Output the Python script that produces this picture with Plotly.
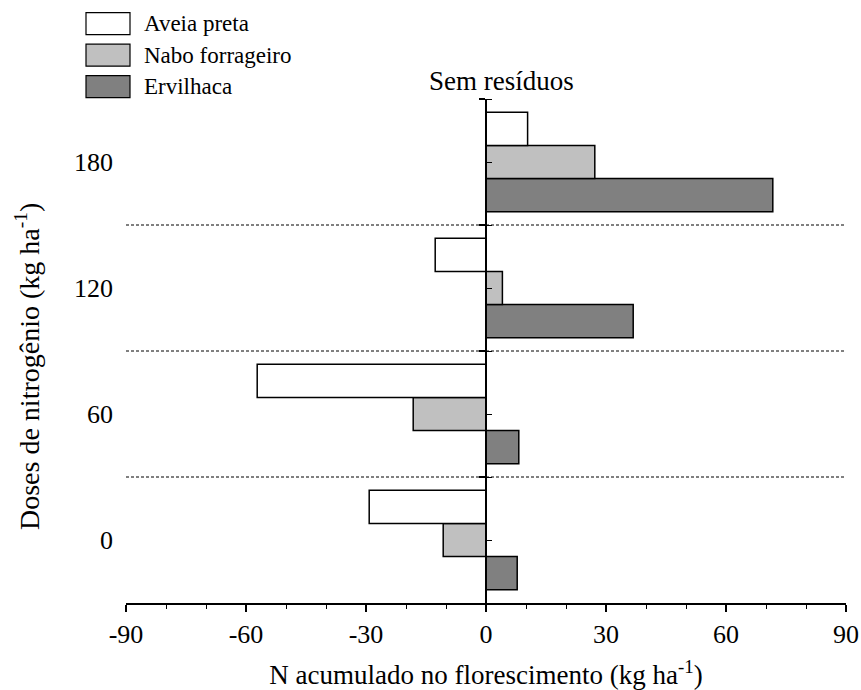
import plotly.graph_objects as go

# Data
doses = ["0", "60", "120", "180"]
aveia_preta = [-29.2, -57.2, -12.7, 10.4]
nabo_forrageiro = [-10.7, -18.2, 4.1, 27.2]
ervilhaca = [7.8, 8.2, 36.8, 71.7]

x_ticks = [-90, -60, -30, 0, 30, 60, 90]
x_ticktext = ["-90", "-60", "-30", "0", "30", "60", "90"]

series = [
    ("Ervilhaca", ervilhaca, "#808080"),
    ("Nabo forrageiro", nabo_forrageiro, "#c0c0c0"),
    ("Aveia preta", aveia_preta, "#ffffff"),
]

FONT = "Liberation Serif"
W, H = 861, 690
L, T = 126, 99
PW, PH = 720, 504
R, B = W - L - PW, H - T - PH


def px2paper(xp, yp):
    # pixel position -> paper coordinates of the plot area
    return (xp - L) / PW, (T + PH - yp) / PH


fig = go.Figure()
for name, vals, col in series:
    fig.add_trace(go.Bar(
        y=doses, x=vals, name=name, orientation="h",
        marker=dict(color=col, line=dict(color="black", width=1.5)),
        showlegend=False,
    ))

# dashed separators between dose groups
for yv in [0.5, 1.5, 2.5]:
    fig.add_shape(type="line", xref="x", yref="y", x0=-90, x1=90, y0=yv, y1=yv,
                  line=dict(color="black", width=1, dash="3px,2px"))

# hand-made legend (large boxes like the original)
legend_items = [("Aveia preta", "#ffffff"), ("Nabo forrageiro", "#c0c0c0"), ("Ervilhaca", "#808080")]
for i, (name, col) in enumerate(legend_items):
    top = 12.7 + i * 31.5
    x0, y1 = px2paper(86, top)
    x1, y0 = px2paper(130, top + 22)
    fig.add_shape(type="rect", xref="paper", yref="paper", x0=x0, x1=x1, y0=y0, y1=y1,
                  line=dict(color="black", width=1.2), fillcolor=col)
    tx, ty = px2paper(142, top + 11)
    fig.add_annotation(xref="paper", yref="paper", x=tx, y=ty,
                       text=name, showarrow=False, xanchor="left", yanchor="middle",
                       font=dict(size=23, family=FONT, color="black"))

sx, sy = px2paper(501, 81)
fig.add_annotation(xref="paper", yref="paper", x=sx, y=sy,
                   text="Sem resíduos", showarrow=False, xanchor="center", yanchor="middle",
                   font=dict(size=27, family=FONT, color="black"))

# y title sits a little below the plot centre in the original
yx, yy = px2paper(27, 367)
fig.add_annotation(xref="paper", yref="paper", x=yx, y=yy, textangle=-90,
                   text="Doses de nitrogênio (kg ha<sup>-1</sup>)", showarrow=False,
                   xanchor="center", yanchor="middle",
                   font=dict(size=28, family=FONT, color="black"))

fig.update_layout(
    width=W, height=H,
    margin=dict(l=L, r=R, t=T, b=B, autoexpand=False),
    paper_bgcolor="white", plot_bgcolor="white",
    barmode="group", bargap=0.21, bargroupgap=0,
    font=dict(family=FONT, color="black", size=26),
    xaxis=dict(
        range=[-90, 90], tickvals=x_ticks, ticktext=x_ticktext, automargin=False,
        ticklabeloverflow="allow",
        showline=True, linecolor="black", linewidth=1.5,
        ticks="outside", ticklen=7, tickwidth=1.5, tickcolor="black",
        minor=dict(tickvals=[-80, -70, -50, -40, -20, -10, 10, 20, 40, 50, 70, 80],
                   ticks="outside", ticklen=4, tickwidth=1.2, tickcolor="black"),
        showgrid=False, zeroline=False,
        tickfont=dict(size=26, family=FONT, color="black"),
        title=dict(text="N acumulado no florescimento (kg ha<sup>-1</sup>)",
                   font=dict(size=27, family=FONT, color="black"), standoff=21),
    ),
    yaxis=dict(
        type="category", categoryorder="array", categoryarray=doses, automargin=False,
        range=[-0.5, 3.5], showline=False, showgrid=False, zeroline=False,
        ticks="", ticklabelstandoff=12, tickfont=dict(size=26, family=FONT, color="black"),
    ),
    yaxis2=dict(
        overlaying="y", anchor="free", position=0.5, side="left", automargin=False,
        range=[-0.5, 3.5], showline=True, linecolor="black", linewidth=2,
        tickvals=[0.5, 1.5, 2.5, 3.5], ticks="outside", ticklen=6, tickwidth=1.5,
        tickcolor="black", showticklabels=False, showgrid=False, zeroline=False,
        minor=dict(tickvals=[0, 1, 2, 3, 0.5, 1.5, 2.5, 3.5], ticks="inside",
                   ticklen=5, tickwidth=1.2, tickcolor="black"),
    ),
)
# invisible trace so the overlay axis is drawn
fig.add_trace(go.Scatter(x=[0], y=[1.5], yaxis="y2", mode="markers",
                         marker=dict(opacity=0), showlegend=False, hoverinfo="skip"))

# drop the default 8px page margin so the figure fills the window exactly
fig.write_html("out.html", config={"displayModeBar": False},
               post_script="document.body.style.margin='0';document.body.style.overflow='hidden';")
